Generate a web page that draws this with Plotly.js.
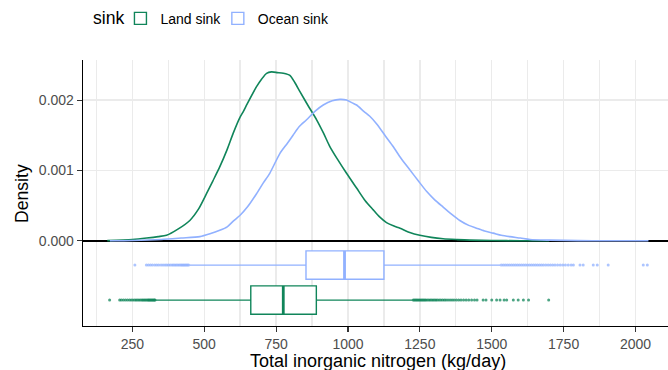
<!DOCTYPE html>
<html>
<head>
<meta charset="utf-8">
<script src="https://cdn.plot.ly/plotly-3.0.1.min.js"></script>
<style>html,body{margin:0;padding:0;background:#fff;}#chart{width:668px;height:370px;}</style>
</head>
<body>
<div id="chart"></div>
<script>
// ---- data ----
var sinkNames = ["Land sink", "Ocean sink"];
var legendTitle = "sink";
var xTitle = "Total inorganic nitrogen (kg/day)";
var yTitle = "Density";

var landDensityX = [163, 250, 300, 340, 369, 410, 450, 480, 508, 530, 554, 580, 601, 624, 635, 650, 682, 700, 717, 734, 755, 775, 798, 815, 833, 860, 891, 915, 937, 965, 995, 1030, 1060, 1088, 1110, 1134, 1160, 1181, 1215, 1250, 1290, 1331, 1380, 1424, 1500, 1600, 1700];
var landDensityY = [0.000003, 0.00002, 0.00004, 0.00006, 0.00008, 0.00017, 0.00029, 0.00045, 0.00067, 0.00085, 0.00105, 0.0013, 0.00153, 0.00175, 0.00183, 0.00195, 0.00219, 0.0023, 0.00238, 0.0024, 0.00239, 0.00238, 0.00235, 0.00225, 0.00212, 0.00193, 0.00172, 0.00153, 0.00134, 0.00115, 0.00096, 0.00075, 0.00057, 0.00044, 0.00034, 0.00026, 0.00021, 0.00018, 0.00012, 0.00008, 0.00005, 0.00003, 0.000018, 0.00001, 0.000005, 0.000002, 0.000001];

var oceanDensityX = [172, 250, 350, 420, 485, 520, 554, 580, 601, 624, 650, 682, 705, 728, 763, 790, 809, 830, 856, 885, 914, 945, 972, 995, 1015, 1030, 1055, 1076, 1100, 1130, 1157, 1185, 1215, 1245, 1274, 1300, 1331, 1360, 1389, 1420, 1447, 1475, 1505, 1533, 1563, 1600, 1633, 1700, 1800, 1900, 2045];
var oceanDensityY = [0.000002, 0.000006, 0.00002, 0.00004, 0.00006, 0.0001, 0.00015, 0.0002, 0.00028, 0.00036, 0.00048, 0.00067, 0.00082, 0.00096, 0.00124, 0.00139, 0.0015, 0.00162, 0.00172, 0.00184, 0.00193, 0.00199, 0.00201, 0.002, 0.00196, 0.00193, 0.00184, 0.00177, 0.00166, 0.00149, 0.00134, 0.00117, 0.00101, 0.00085, 0.0007, 0.00059, 0.00048, 0.00038, 0.00029, 0.00022, 0.00018, 0.00014, 0.00011, 0.00008, 0.00006, 0.00004, 0.00002, 0.00001, 0.000004, 0.000002, 0.000001];

// box statistics [Land, Ocean]
var boxQ1 = [662, 854];
var boxMedian = [775, 988];
var boxQ3 = [890, 1125];
var boxLowerFence = [330, 449];
var boxUpperFence = [1225, 1529];

var landOutliers = [171, 206, 212, 219, 226, 233, 240, 246, 252, 258, 263, 268, 273, 278, 283, 287, 291, 295, 299, 303, 306, 309, 312, 315, 318, 321, 324, 327, 329,
  1227, 1231, 1235, 1239, 1243, 1247, 1251, 1255, 1259, 1263, 1267, 1271, 1276, 1281, 1286, 1291, 1296, 1301, 1306, 1311, 1317, 1323, 1329, 1335, 1341, 1348, 1355, 1362, 1369, 1377, 1385, 1393, 1402, 1411, 1420, 1430, 1440, 1449,
  1470, 1480, 1500, 1517, 1529, 1543, 1552, 1575, 1592, 1610, 1628, 1698];
var oceanOutliers = [259, 299, 306, 313, 320, 328, 335, 342, 350, 357, 364, 370, 376, 382, 388, 393, 398, 403, 408, 413, 418, 422, 426, 430, 434, 438, 442, 446,
  1533, 1540, 1547, 1554, 1561, 1568, 1575, 1582, 1589, 1596, 1603, 1610, 1617, 1624, 1631, 1638, 1645, 1652, 1659, 1666, 1673, 1680, 1688, 1696, 1704, 1712, 1720, 1729, 1738, 1747, 1756, 1766, 1776, 1784,
  1807, 1818, 1853, 1867, 1905, 2027, 2041];

var xTickVals = [250, 500, 750, 1000, 1250, 1500, 1750, 2000];
var yTickVals = [0, 0.001, 0.002];
var yTickText = ["0.000", "0.001", "0.002"];

// ---- styling / positions ----
var colors = ["#10855a", "#91b1ff"];
var boxPos = [-0.000841, -0.000344];
var boxWidth = 0.000403;
var legendIds = ["legend", "legend2"];

function repeatVal(v, n) { var a = []; for (var i = 0; i < n; i++) a.push(v); return a; }

var traces = [];
traces.push({type: "scatter", mode: "lines", x: landDensityX, y: landDensityY, line: {color: colors[0], width: 1.6, shape: "spline", smoothing: 0.7}, showlegend: false, hoverinfo: "skip"});
traces.push({type: "scatter", mode: "lines", x: oceanDensityX, y: oceanDensityY, line: {color: colors[1], width: 1.6, shape: "spline", smoothing: 0.7}, showlegend: false, hoverinfo: "skip"});

var outlierSets = [landOutliers, oceanOutliers];
for (var i = 0; i < 2; i++) {
  traces.push({
    type: "box", orientation: "h", name: sinkNames[i], legend: legendIds[i],
    y: [boxPos[i]], q1: [boxQ1[i]], median: [boxMedian[i]], q3: [boxQ3[i]],
    lowerfence: [boxLowerFence[i]], upperfence: [boxUpperFence[i]],
    width: boxWidth, boxpoints: false, whiskerwidth: 0,
    line: {color: colors[i], width: 1.4}, fillcolor: "#ffffff",
    showlegend: true, hoverinfo: "skip"
  });
  traces.push({type: "scatter", mode: "lines", x: [boxMedian[i], boxMedian[i]], y: [boxPos[i] - boxWidth / 2, boxPos[i] + boxWidth / 2], line: {color: colors[i], width: 2.8}, showlegend: false, hoverinfo: "skip"});
  traces.push({type: "scatter", mode: "markers", x: outlierSets[i], y: repeatVal(boxPos[i], outlierSets[i].length), marker: {color: colors[i], size: 3, opacity: 0.75}, showlegend: false, hoverinfo: "skip"});
}

var font = "Liberation Sans, Arial, Helvetica, sans-serif";
function legendAt(x) {
  return {
    orientation: "h", x: x, xanchor: "left", y: 1.215, yanchor: "top",
    font: {size: 14, color: "#000"}, bgcolor: "rgba(0,0,0,0)", borderwidth: 0
  };
}
var layout = {
  width: 668, height: 370,
  margin: {l: 83, r: 0, t: 60, b: 44, pad: 0},
  paper_bgcolor: "#ffffff", plot_bgcolor: "#ffffff",
  font: {family: font, color: "#000000"},
  boxmode: "overlay",
  showlegend: true,
  legend: legendAt(0.064),
  legend2: legendAt(0.2305),
  annotations: [{
    text: legendTitle, xref: "paper", yref: "paper", x: 0.013, y: 1.158,
    xanchor: "left", yanchor: "middle", showarrow: false,
    font: {size: 17.6, color: "#000"}
  }, {
    text: xTitle, xref: "paper", yref: "paper", x: 0.505, y: -0.13,
    xanchor: "center", yanchor: "middle", showarrow: false,
    font: {size: 18, color: "#000"}
  }, {
    text: yTitle, xref: "paper", yref: "paper", x: -0.1043, y: 0.5,
    xanchor: "center", yanchor: "middle", showarrow: false, textangle: -90,
    font: {size: 17.6, color: "#000"}
  }],
  xaxis: {
    range: [78.5, 2113], tickmode: "array", tickvals: xTickVals,
    showline: true, linecolor: "#000000", linewidth: 1.3,
    ticks: "outside", ticklen: 5, tickwidth: 1.1, tickcolor: "#333333",
    tickfont: {size: 14, color: "#4d4d4d"},
    showgrid: true, gridcolor: "#ebebeb", gridwidth: 1.4,
    minor: {dtick: 125, tick0: 0, showgrid: true, gridcolor: "#ebebeb", gridwidth: 1.4, ticklen: 0},
    zeroline: false
  },
  yaxis: {
    range: [-0.001209, 0.002569], tickmode: "array", tickvals: yTickVals, ticktext: yTickText,
    showline: true, linecolor: "#000000", linewidth: 1.3,
    ticks: "outside", ticklen: 5, tickwidth: 1.1, tickcolor: "#333333",
    tickfont: {size: 14, color: "#4d4d4d"},
    showgrid: true, gridcolor: "#ebebeb", gridwidth: 1.4,
    zeroline: true, zerolinecolor: "#000000", zerolinewidth: 1.3
  }
};

Plotly.newPlot("chart", traces, layout, {displayModeBar: false, staticPlot: true});
</script>
</body>
</html>
